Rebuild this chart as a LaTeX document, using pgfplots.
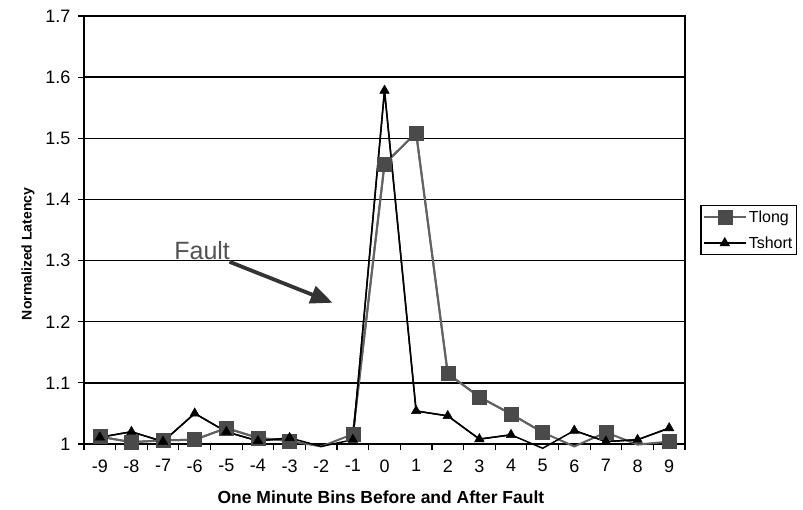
\documentclass[border=0pt]{standalone}
\usepackage{fontspec}
\setmainfont{Liberation Sans}
\usepackage{pgfplots}
\pgfplotsset{compat=1.18}
\usepackage{pgfplotstable}
\usetikzlibrary{arrows.meta}

\definecolor{longline}{HTML}{626262}
\definecolor{longmark}{HTML}{4A4A4A}
\definecolor{arrowgray}{HTML}{333333}

% Normalized latency per one-minute bin around the fault
\pgfplotstableread{
bin tlong tshort
-9 1.012 1.011
-8 1.003 1.020
-7 1.006 1.004
-6 1.007 1.050
-5 1.026 1.020
-4 1.010 1.005
-3 1.005 1.010
-2 0.996 0.996
-1 1.016 1.007
0  1.458 1.578
1  1.509 1.054
2  1.115 1.046
3  1.077 1.008
4  1.049 1.015
5  1.019 0.993
6  0.996 1.022
7  1.019 1.004
8  0.999 1.007
9  1.004 1.026
}\latency

\begin{document}
\begin{tikzpicture}
\begin{axis}[
  scale only axis, width=601pt, height=428pt,
  xmin=-9.5, xmax=9.5, ymin=1, ymax=1.7,
  xtick={-9.5,-8.5,...,9.5},
  xticklabels={-9,-8,-7,-6,-5,-4,-3,-2,-1,0,1,2,3,4,5,6,7,8,9,{}},
  xticklabel style={xshift=15.82pt, yshift=-6pt},
  yticklabel style={xshift=-4pt},
  ytick={1,1.1,1.2,1.3,1.4,1.5,1.6,1.7},
  xtick pos=bottom, ytick pos=left,
  /pgf/number format/assume math mode=true,
  tick label style={font=\fontsize{18}{18}\selectfont},
  tick align=outside, major tick length=6pt,
  tick style={black, line width=1.2pt},
  ymajorgrids, grid style={black, line width=1.3pt},
  axis line style={black, line width=1.5pt},
  clip=false,
  xlabel={One Minute Bins Before and After Fault},
  ylabel={Normalized Latency},
  every axis x label/.style={at={(axis description cs:0.494,-0.124)}, anchor=center,
    font=\fontsize{17.5}{17.5}\selectfont\bfseries},
  every axis y label/.style={at={(axis description cs:-0.093,0.444)}, anchor=center, rotate=90,
    font=\fontsize{14}{14}\selectfont\bfseries},
  legend style={at={(1.025,0.5)}, anchor=west, draw=black, line width=1.5pt,
    font=\fontsize{16}{16}\selectfont, inner xsep=2pt, inner ysep=3pt, row sep=9pt},
  legend cell align=left,
  legend image code/.code={\draw[mark repeat=2, mark phase=2, #1]
    plot coordinates {(0pt,0pt) (21pt,0pt) (42pt,0pt)};},
]
% lines through all bins
\addplot[longline, line width=2pt, forget plot] table[x=bin, y=tlong]{\latency};
\addplot[longline, line width=2pt, mark=square*, mark size=7pt,
  mark options={fill=longmark, draw=longmark, line width=0.5pt},
  restrict y to domain=1:2, unbounded coords=jump] table[x=bin, y=tlong]{\latency};
\addlegendentry{Tlong}
\addplot[black, line width=1.5pt, forget plot] table[x=bin, y=tshort]{\latency};
\addplot[black, line width=1.5pt, mark=triangle*, mark size=5.5pt,
  mark options={fill=black, line width=0.5pt},
  restrict y to domain=1:2, unbounded coords=jump] table[x=bin, y=tshort]{\latency};
\addlegendentry{Tshort}

\node[font=\fontsize{25}{25}\selectfont, text=arrowgray!85, anchor=base west, inner sep=0pt]
  at (axis cs:-6.65,1.301) {Fault};
\draw[arrowgray, line width=3.8pt, -{Triangle[length=22pt,width=18pt]}]
  (axis cs:-4.9,1.298) -- (axis cs:-1.64,1.231);
\end{axis}
\path[use as bounding box] (-84pt,-65pt) rectangle (719pt,444pt);
\end{tikzpicture}
\end{document}
